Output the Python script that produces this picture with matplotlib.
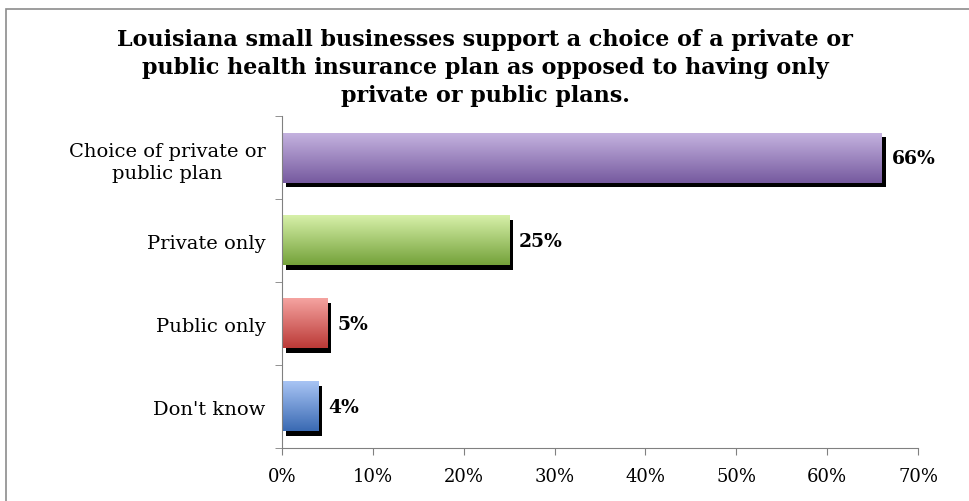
import matplotlib
matplotlib.use('Agg')
import matplotlib.pyplot as plt
import numpy as np
from matplotlib.colors import LinearSegmentedColormap
from matplotlib.patches import Rectangle

categories = ["Choice of private or\npublic plan", "Private only", "Public only", "Don't know"]
values = [66, 25, 5, 4]
value_labels = ["66%", "25%", "5%", "4%"]
top_colors = ["#c4b2df", "#d7f0a9", "#f5a3a0", "#a8c4f4"]
bottom_colors = ["#765a9f", "#74a23a", "#bb3a37", "#3a6ab3"]
xticks = [0, 10, 20, 30, 40, 50, 60, 70]

title = ("Louisiana small businesses support a choice of a private or\n"
         "public health insurance plan as opposed to having only\n"
         "private or public plans.")

plt.rcParams['font.family'] = ['DejaVu Serif']

fig = plt.figure(figsize=(9.7, 5.02), dpi=100)
ax = fig.add_axes([0.2907, 0.1056, 0.6557, 0.661])

# outer chart border
fig.patches.append(Rectangle((6 / 970, -0.1), 1.1, 1 - 10 / 502 + 0.1,
                             transform=fig.transFigure, fill=False,
                             edgecolor='#8c8c8c', linewidth=1.2))

ypos = np.arange(len(categories))
h = 0.6
for i, v in enumerate(values):
    y0 = ypos[i] - h / 2
    # black shadow
    ax.add_patch(Rectangle((0.45, y0 + 0.05), v, h,
                           facecolor='black', edgecolor='none', zorder=1))
    cmap = LinearSegmentedColormap.from_list('g', [top_colors[i], bottom_colors[i]])
    grad = np.linspace(0, 1, 100).reshape(-1, 1)
    ax.imshow(grad, cmap=cmap, aspect='auto', extent=(0, v, y0 + h, y0),
              zorder=2, interpolation='bilinear')
    ax.text(v + 1.1, ypos[i], value_labels[i], va='center', ha='left',
            fontsize=13.5, fontweight='bold')

ax.set_xlim(0, 70)
ax.set_ylim(len(categories) - 0.5, -0.5)
ax.set_xticks(xticks)
ax.set_xticklabels([f"{t}%" for t in xticks], fontsize=13)
ax.set_yticks(ypos)
ax.set_yticklabels(categories, fontsize=14, multialignment='center',
                   linespacing=1.3)
ax.set_yticks(np.arange(len(categories) + 1) - 0.5, minor=True)
ax.tick_params(axis='y', which='major', length=0, pad=12)
ax.tick_params(axis='y', which='minor', length=5, color='#808080')
ax.tick_params(axis='x', length=5, color='#808080', pad=9)
for s in ['top', 'right']:
    ax.spines[s].set_visible(False)
for s in ['left', 'bottom']:
    ax.spines[s].set_color('#808080')
ax.set_aspect('auto')

fig.text(0.5, 0.943, title, ha='center', va='top', fontsize=16,
         fontweight='bold', linespacing=1.36)

plt.savefig('out.png', dpi=100)
